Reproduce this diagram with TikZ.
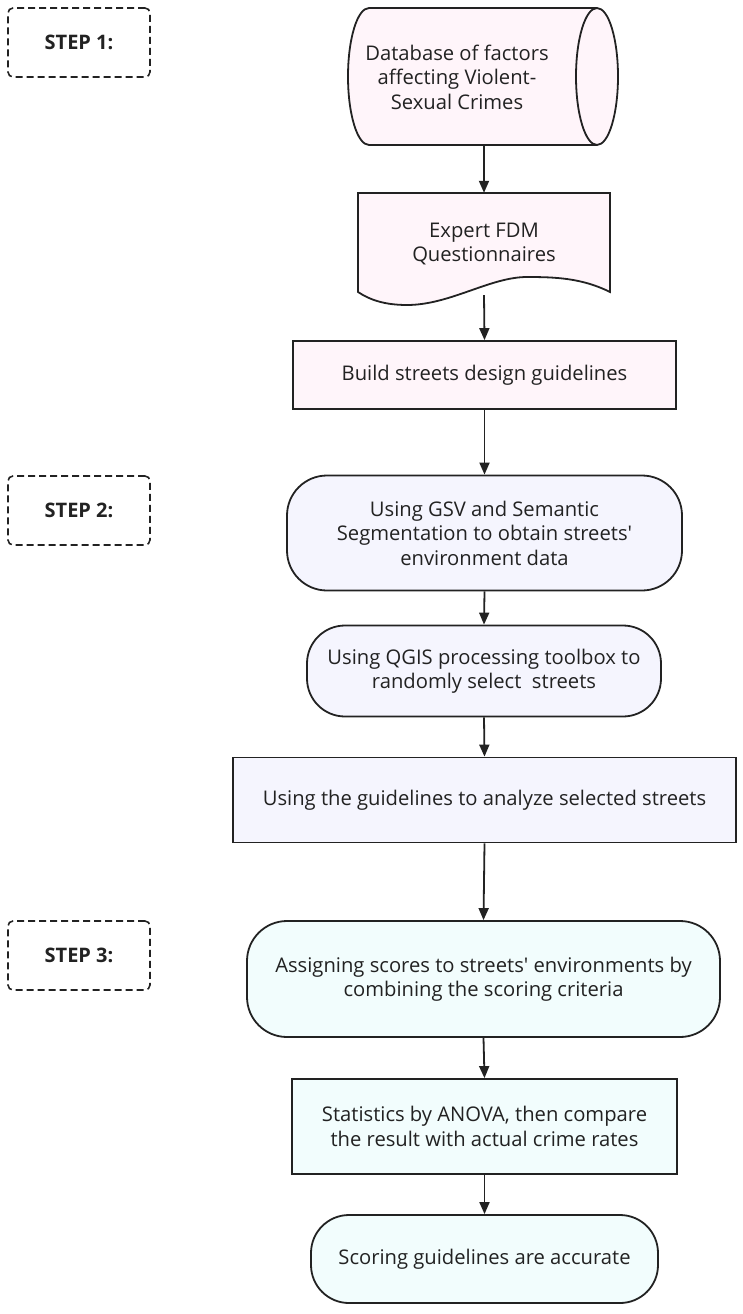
\documentclass[tikz,border=0pt]{standalone}
\usepackage{fontspec}
\setmainfont{Open Sans}[Ligatures=TeXOff]
\usetikzlibrary{arrows.meta}
\definecolor{pinkf}{RGB}{255,245,250}
\definecolor{lavf}{RGB}{245,245,254}
\definecolor{cyanf}{RGB}{242,253,253}
\definecolor{edge}{RGB}{34,34,34}
\begin{document}
\begin{tikzpicture}[x=1pt,y=-1pt,
  every node/.style={font=\fontsize{20.2}{24.5}\selectfont, text=edge, align=center, inner sep=0pt},
  box/.style={draw=edge, line width=1.8pt},
  roundbox/.style={box, rounded corners=40pt},
  stepbox/.style={draw=edge, line width=1.6pt, dash pattern=on 7pt off 4pt, rounded corners=5pt,
    minimum width=142pt, minimum height=69pt, font=\fontsize{20}{24}\selectfont\bfseries},
  conn/.style={draw=edge, line width=1.8pt, -{Triangle[length=12pt,width=10pt]}}]
\useasboundingbox (0,0) rectangle (742,1314);
% step labels
\node[stepbox] (s1) at (79,42.5) {STEP 1:};
\node[stepbox] (s2) at (79,510.5) {STEP 2:};
\node[stepbox] (s3) at (79,955.5) {STEP 3:};
% cylinder
\draw[box, fill=pinkf] (369,8) -- (597,8) arc[start angle=-90, end angle=90, x radius=21, y radius=68.5]
  -- (369,145) arc[start angle=90, end angle=270, x radius=21, y radius=68.5] -- cycle;
\draw[box] (597,8) arc[start angle=-90, end angle=-270, x radius=21, y radius=68.5];
\node (db) at (457,77) {Database of factors\\affecting Violent-\\Sexual Crimes};
\coordinate (dbb) at (484,145);
% document shape
\draw[box, fill=pinkf] (358,193) -- (610,193) -- (610,292)
  .. controls (582,278) and (555,277) .. (527,277)
  .. controls (490,277) and (450,305) .. (407,305)
  .. controls (385,305) and (370,300) .. (358,292) -- cycle;
\node[minimum width=252pt, minimum height=102pt] (fdm) at (484,244) {Expert FDM\\Questionnaires};
% boxes
\node[box, fill=pinkf, minimum width=383pt, minimum height=68pt] (guide) at (484.5,375) {Build streets design guidelines};
\node[roundbox, fill=lavf, minimum width=395pt, minimum height=115pt] (gsv) at (484.5,533) {Using GSV and Semantic\\Segmentation to obtain streets'\\environment data};
\node[roundbox, fill=lavf, rounded corners=38pt, minimum width=354pt, minimum height=91pt] (qgis) at (484,671) {Using QGIS processing toolbox to\\randomly select\ \ streets};
\node[box, fill=lavf, minimum width=503pt, minimum height=85pt] (anal) at (484.5,800) {Using the guidelines to analyze selected streets};
\node[roundbox, fill=cyanf, minimum width=473pt, minimum height=116pt] (assign) at (483.5,979) {Assigning scores to streets' environments by\\combining the scoring criteria};
\node[box, fill=cyanf, minimum width=385pt, minimum height=95pt] (anova) at (484.5,1126.5) {Statistics by ANOVA, then compare\\the result with actual crime rates};
\node[roundbox, fill=cyanf, rounded corners=38pt, minimum width=347pt, minimum height=88pt] (score) at (484.5,1259) {Scoring guidelines are accurate};
% connectors
\draw[conn] (dbb) -- (fdm.north);
\draw[conn] (fdm.south) -- (guide.north);
\draw[conn] (guide.south) -- (gsv.north);
\draw[conn] (gsv.south) -- (qgis.north);
\draw[conn] (qgis.south) -- (anal.north);
\draw[conn] (anal.south) -- (assign.north);
\draw[conn] (assign.south) -- (anova.north);
\draw[conn] (anova.south) -- (score.north);
\end{tikzpicture}
\end{document}
